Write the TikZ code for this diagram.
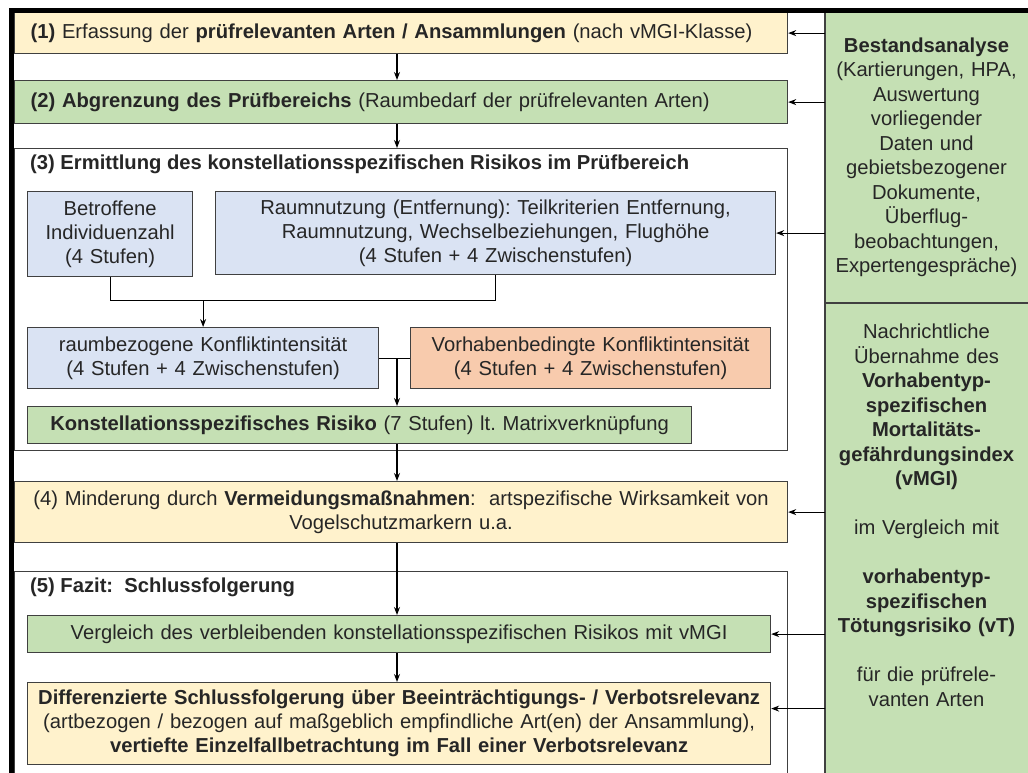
\documentclass[tikz,border=0pt]{standalone}
\usepackage{fontspec}
\setmainfont{Liberation Sans}
\usepackage{tikz}
\usetikzlibrary{arrows.meta, positioning}
\definecolor{boxyellow}{HTML}{FFF2CC}
\definecolor{boxgreen}{HTML}{C5E0B4}
\definecolor{boxblue}{HTML}{DAE3F3}
\definecolor{boxorange}{HTML}{F8CBAD}
\definecolor{boxline}{HTML}{404040}
\definecolor{boxtext}{HTML}{262626}
\frenchspacing
\tikzset{
  stage/.style = {draw=boxline, line width=1.2pt, rectangle, anchor=north west,
    inner xsep=0pt, inner ysep=0pt, align=center, text=boxtext,
    font=\fontsize{20.2}{24}\selectfont},
  leftstage/.style = {stage, inner xsep=16pt, align=left},
  area/.style = {draw=boxline, line width=1.2pt, anchor=north west, inner sep=0pt},
  heading/.style = {anchor=west, inner sep=0pt, text=boxtext,
    font=\bfseries\fontsize{20.2}{24}\selectfont},
  coltext/.style = {inner sep=0pt, align=center, text=boxtext,
    font=\fontsize{20.2}{24.5}\selectfont},
  link/.style = {draw=black, line width=1.1pt},
  arr/.style = {link, ->}
}

\begin{document}
\begin{tikzpicture}[x=1pt, y=-1pt, >={Stealth[length=8pt, width=6pt]}]
\clip (0,0) rectangle (1028,773);
\fill[white] (0,0) rectangle (1028,773);

\node (col) [area, draw=none, fill=boxgreen, minimum width=215pt, minimum height=800pt] at (825,12) {};
\node (ba) [coltext, text width=203pt] at (926.5,157.5) {\textbf{Bestandsanalyse}\\(Kartierungen, HPA,\\Auswertung\\vorliegender\\Daten und\\gebietsbezogener\\Dokumente,\\Überflug-\\beobachtungen,\\Expertengespräche)};
\node (nu) [coltext, text width=203pt, anchor=north] at (926.5,324) {Nachrichtliche\\Übernahme des\\\textbf{Vorhabentyp-}\\\textbf{spezifischen}\\\textbf{Mortalitäts-}\\\textbf{gefährdungsindex}\\\textbf{(vMGI)}\\[24.5pt]im Vergleich mit\\[24.5pt]\textbf{vorhabentyp-}\\\textbf{spezifischen}\\\textbf{Tötungsrisiko (vT)}\\[24.5pt]für die prüfrele-\\vanten Arten};
\draw[draw=boxline, line width=1.2pt] (col.north west) -- (col.south west);
\draw[draw=boxline, line width=1.2pt] (col.west |- 0,303) -- (col.east |- 0,303);

\node (s1) [leftstage, fill=boxyellow, text width=741pt, minimum height=41pt] at (14,12) {\textbf{(1)} Erfassung der \textbf{prüfrelevanten Arten / Ansammlungen} (nach vMGI-Klasse)};
\node (s2) [leftstage, fill=boxgreen, text width=741pt, minimum height=43pt] at (14,80) {\textbf{(2) Abgrenzung des Prüfbereichs} (Raumbedarf der prüfrelevanten Arten)};

\node (s3) [area, fill=white, minimum width=773pt, minimum height=302pt] at (14,148) {};
\node (t3) [heading] at (30,164) {(3) Ermittlung des konstellationsspezifischen Risikos im Prüfbereich};
\node (bi) [stage, fill=boxblue, text width=165pt, minimum height=85pt] at (27,191) {Betroffene\\Individuenzahl\\(4 Stufen)};
\node (rn) [stage, fill=boxblue, text width=560pt, minimum height=83pt] at (215,191) {Raumnutzung (Entfernung): Teilkriterien Entfernung,\\Raumnutzung, Wechselbeziehungen, Flughöhe\\(4 Stufen + 4 Zwischenstufen)};
\node (rk) [stage, fill=boxblue, text width=351pt, minimum height=61pt] at (27,327) {raumbezogene Konfliktintensität\\(4 Stufen + 4 Zwischenstufen)};
\node (vb) [stage, fill=boxorange, text width=360pt, minimum height=61pt] at (410,327) {Vorhabenbedingte Konfliktintensität\\(4 Stufen + 4 Zwischenstufen)};
\node (ks) [stage, fill=boxgreen, text width=664pt, minimum height=37pt] at (27,406) {\textbf{Konstellationsspezifisches Risiko} (7 Stufen) lt. Matrixverknüpfung};

\node (s4) [stage, fill=boxyellow, text width=773pt, minimum height=61pt] at (14,481) {(4) Minderung durch \textbf{Vermeidungsmaßnahmen}:\ \ artspezifische Wirksamkeit von\\Vogelschutzmarkern u.a.};

\node (s5) [area, fill=white, minimum width=773pt, minimum height=240pt] at (14,571) {};
\node (t5) [heading] at (30,587) {(5) Fazit:\ \ Schlussfolgerung};
\node (vg) [stage, fill=boxgreen, text width=743pt, minimum height=37pt] at (27,615) {Vergleich des verbleibenden konstellationsspezifischen Risikos mit vMGI};
\node (dz) [stage, fill=boxyellow, text width=743pt, minimum height=82pt] at (27,682) {\textbf{Differenzierte Schlussfolgerung über Beeinträchtigungs- / Verbotsrelevanz}\\(artbezogen / bezogen auf maßgeblich empfindliche Art(en) der Ansammlung),\\\textbf{vertiefte Einzelfallbetrachtung im Fall einer Verbotsrelevanz}};

\coordinate (ax) at (397,0);
\draw[arr] (s1.south -| ax) -- (s2.north -| ax);
\draw[arr] (s2.south -| ax) -- (s3.north -| ax);
\draw[link] (bi.south) -- ++(0,23) coordinate (j1) -| (rn.south);
\draw[arr] (j1 -| rk.north) -- (rk.north);
\draw[link] (rk.east) -- (vb.west);
\draw[arr] (rk.east -| ax) -- (ks.north -| ax);
\draw[arr] (ks.south -| ax) -- (s4.north -| ax);
\draw[arr] (s4.south -| ax) -- (vg.north -| ax);
\draw[arr] (vg.south -| ax) -- (dz.north -| ax);

\draw[arr] (s1.east -| col.west) -- (s1.east);
\draw[arr] (s2.east -| col.west) -- (s2.east);
\draw[arr] (rn.east -| col.west) -- (rn.east);
\draw[arr] (s4.east -| col.west) -- (s4.east);
\draw[arr] (vg.east -| col.west) -- (vg.east);
\draw[arr] ([yshift=15pt]dz.east -| col.west) -- ([yshift=15pt]dz.east);

\draw[line width=4.5pt] (11.5,800) -- (11.5,10.5) -- (1030,10.5);
\end{tikzpicture}
\end{document}
